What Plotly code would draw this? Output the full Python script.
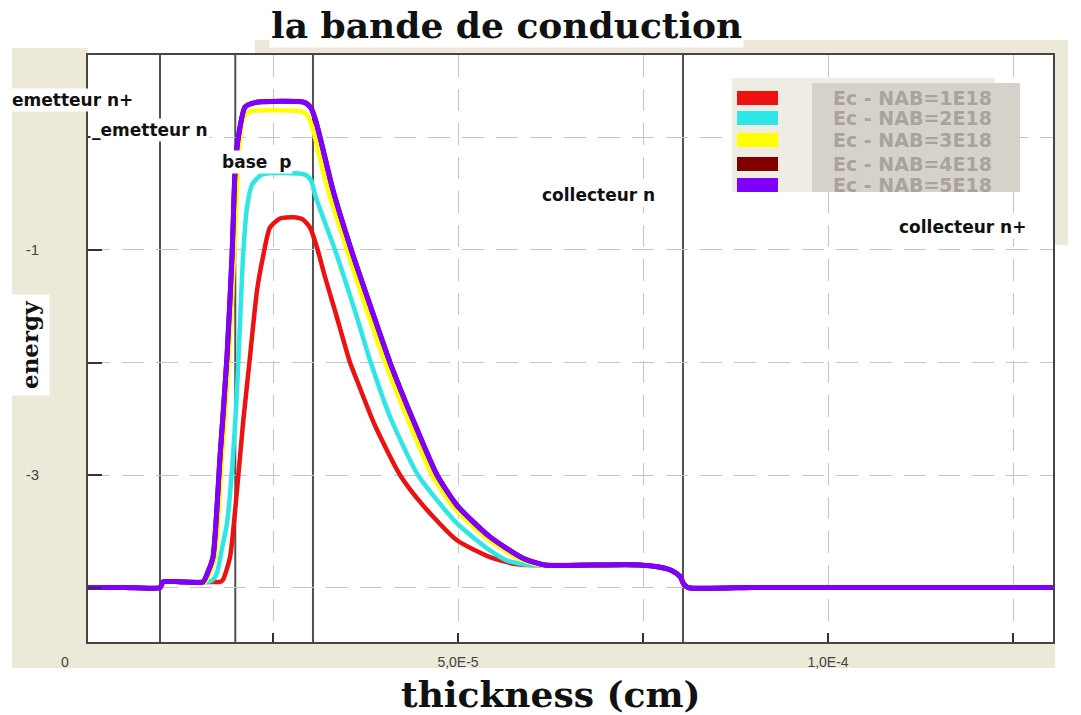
import numpy as np
import plotly.graph_objects as go

# Thickness values are in units of 1e-5 cm, energies in eV.
x_red = [0, 0.5, 0.973, 1.014, 1.3, 1.689, 1.784, 1.824, 1.919, 2.014, 2.095, 2.189, 2.284,
         2.365, 2.459, 2.595, 2.770, 2.905, 3.0, 3.095, 3.203, 3.338, 3.541, 3.635, 3.878,
         4.216, 4.527, 4.986, 5.432, 5.770, 5.973]
e_red = [-4.0, -4.0, -4.0, -3.95, -3.95, -3.95, -3.95, -3.93, -3.73, -3.13, -2.54, -1.95,
         -1.36, -1.06, -0.80, -0.72, -0.71, -0.73, -0.80, -0.98, -1.24, -1.54, -2.0, -2.16,
         -2.56, -3.0, -3.27, -3.58, -3.73, -3.79, -3.80]

x_cyan = [0, 0.5, 0.973, 1.014, 1.3, 1.622, 1.689, 1.743, 1.811, 1.878, 1.959, 2.014, 2.054,
          2.095, 2.149, 2.216, 2.351, 2.932, 3.014, 3.068, 3.176, 3.338, 3.635, 3.811, 4.081,
          4.459, 4.986, 5.432, 5.662, 5.973]
e_cyan = [-4.0, -4.0, -4.0, -3.95, -3.95, -3.95, -3.93, -3.87, -3.65, -3.43, -2.84, -2.24,
          -1.65, -1.06, -0.62, -0.42, -0.33, -0.33, -0.38, -0.51, -0.71, -1.0, -1.60, -1.98,
          -2.48, -3.0, -3.43, -3.67, -3.76, -3.80]

x_yellow = [0, 0.5, 0.973, 1.014, 1.3, 1.581, 1.649, 1.716, 1.811, 1.905, 1.973, 2.014,
            2.054, 2.095, 2.189, 2.892, 2.973, 3.041, 3.108, 3.243, 3.5, 3.743, 4.014, 4.324,
            4.649, 4.919, 5.365, 5.811, 6.108]
e_yellow = [-4.0, -4.0, -4.0, -3.95, -3.95, -3.95, -3.86, -3.73, -2.84, -1.95, -1.06, -0.47,
            -0.02, 0.17, 0.23, 0.23, 0.19, 0.07, -0.11, -0.47, -1.0, -1.49, -2.0, -2.51,
            -3.0, -3.27, -3.55, -3.74, -3.80]

x_purple = [0, 0.5, 0.973, 1.014, 1.3, 1.554, 1.622, 1.689, 1.784, 1.878, 1.946, 1.986,
            2.027, 2.122, 2.257, 2.932, 3.014, 3.081, 3.162, 3.311, 3.568, 3.811, 4.081,
            4.392, 4.716, 4.986, 5.432, 5.878, 6.176]
e_purple = [-4.0, -4.0, -4.0, -3.95, -3.95, -3.95, -3.86, -3.73, -2.84, -1.95, -1.06, -0.32,
            -0.02, 0.27, 0.31, 0.31, 0.26, 0.14, -0.07, -0.47, -1.02, -1.49, -2.0, -2.51,
            -3.0, -3.27, -3.55, -3.74, -3.80]

# The 4E18 curve lies under the 5E18 curve over the whole device.
x_darkred = list(x_purple)
e_darkred = list(e_purple)

# Collector region, common to all doping levels
x_tail = [6.8, 7.459, 7.730, 7.892, 8.0, 8.051, 8.108, 9.0, 10.0, 11.0, 12.0, 13.04]
e_tail = [-3.80, -3.80, -3.82, -3.85, -3.90, -3.97, -4.0, -4.0, -4.0, -4.0, -4.0, -4.0]

series_names = ["Ec - NAB=1E18", "Ec - NAB=2E18", "Ec - NAB=3E18", "Ec - NAB=4E18", "Ec - NAB=5E18"]
series_x = [x_red, x_cyan, x_yellow, x_darkred, x_purple]
series_e = [e_red, e_cyan, e_yellow, e_darkred, e_purple]
series_colors = ["#ee1111", "#2ee6e6", "#ffff00", "#800000", "#7f00ff"]
series_widths = [4.5, 4.5, 4.5, 5, 5]

# Region boundaries (1e-5 cm)
boundaries = [0.973, 1.99, 3.04, 8.04]
region_labels = ["emetteur n+", "_emetteur n", "base  p", "collecteur n", "collecteur n+"]

SCALE = 1e-5
W, H = 1081, 715
L, R, T, B = 88, 1053, 55, 642


def px(x):
    return (x - L) / (R - L)


def py(y):
    return (B - y) / (B - T)


fig = go.Figure()
for name, xs, es, col, lw in zip(series_names, series_x, series_e, series_colors, series_widths):
    xx = np.array(xs + x_tail) * SCALE
    ee = np.array(es + e_tail)
    fig.add_trace(go.Scatter(x=xx, y=ee, mode="lines", name=name,
                             line=dict(color=col, width=lw, shape="spline", smoothing=0.6),
                             showlegend=False))

shapes = []
beige = "#ece9d8"
for (x0, y0, x1, y1) in [(12, 48, 88, 668), (12, 642, 1055, 668),
                         (255, 40, 1068, 55), (1055, 40, 1068, 245)]:
    shapes.append(dict(type="rect", xref="paper", yref="paper",
                       x0=px(x0), x1=px(x1), y0=py(y1), y1=py(y0),
                       fillcolor=beige, line=dict(width=0), layer="below"))

for b in boundaries:
    shapes.append(dict(type="line", xref="x", yref="paper", x0=b * SCALE, x1=b * SCALE,
                       y0=0, y1=1, line=dict(color="#505050", width=2), layer="between"))

# legend box
shapes.append(dict(type="rect", xref="paper", yref="paper", x0=px(732), x1=px(995),
                   y0=py(192), y1=py(78), fillcolor="#efede3", line=dict(width=0)))
shapes.append(dict(type="rect", xref="paper", yref="paper", x0=px(812), x1=px(1020),
                   y0=py(192), y1=py(83), fillcolor="#d6d2ca", line=dict(width=0)))
row_y = [98, 118, 140, 164, 185]
annotations = []
for yy, col, name in zip(row_y, series_colors, series_names):
    shapes.append(dict(type="rect", xref="paper", yref="paper", x0=px(737), x1=px(778),
                       y0=py(yy + 7), y1=py(yy - 7), fillcolor=col, line=dict(width=0)))
    annotations.append(dict(xref="paper", yref="paper", x=px(912), y=py(yy), text=name,
                            showarrow=False, xanchor="center", yanchor="middle",
                            font=dict(family="DejaVu Sans", size=19, color="#a8a49b",
                                      weight="bold")))

label_pos = [(10, 100), (90, 130), (220, 162), (540, 195), (897, 227)]
for (lx, ly), txt in zip(label_pos, region_labels):
    annotations.append(dict(xref="paper", yref="paper", x=px(lx), y=py(ly), text=txt,
                            showarrow=False, xanchor="left", yanchor="middle",
                            bgcolor="white", borderpad=1,
                            font=dict(family="DejaVu Sans", size=17, color="#111111",
                                      weight="bold")))

annotations.append(dict(xref="paper", yref="paper", x=px(506), y=py(25),
                        text="la bande de conduction", showarrow=False,
                        xanchor="center", yanchor="middle", bgcolor="white",
                        font=dict(family="DejaVu Serif", size=36, color="#111111",
                                  weight="bold")))
annotations.append(dict(xref="paper", yref="paper", x=px(551), y=py(694),
                        text="thickness (cm)", showarrow=False,
                        xanchor="center", yanchor="middle",
                        font=dict(family="DejaVu Serif", size=36, color="#111111",
                                  weight="bold")))
annotations.append(dict(xref="paper", yref="paper", x=px(29), y=py(345),
                        text="energy", showarrow=False, textangle=-90,
                        xanchor="center", yanchor="middle", bgcolor="white", borderpad=6,
                        font=dict(family="DejaVu Serif", size=23, color="#111111",
                                  weight="bold")))
annotations.append(dict(xref="paper", yref="paper", x=px(65), y=py(662), text="0",
                        showarrow=False, xanchor="center", yanchor="middle",
                        font=dict(family="Liberation Sans", size=14, color="#444444")))

grid = dict(showgrid=True, gridcolor="#c4c4c4", gridwidth=1.2, griddash="22px,12px")

fig.update_layout(
    width=W, height=H,
    margin=dict(l=L, r=W - R, t=T, b=H - B),
    paper_bgcolor="white", plot_bgcolor="white",
    shapes=shapes, annotations=annotations,
    xaxis=dict(range=[0, 13.04 * SCALE], tickvals=[2.5e-5, 5e-5, 7.5e-5, 1e-4, 1.25e-4],
               ticktext=["", "5,0E-5", "", "1,0E-4", ""],
               ticks="inside", ticklen=9, tickcolor="#333", tickwidth=2,
               ticklabelstandoff=6,
               tickfont=dict(family="Liberation Sans", size=14, color="#444444"),
               showline=True, linecolor="#454545", linewidth=2, mirror=True,
               zeroline=False, **grid),
    yaxis=dict(range=[-4.484, 0.733], tickvals=[0, -1, -2, -3, -4],
               ticktext=["", "-1", "", "-3", ""],
               ticks="inside", ticklen=14, tickcolor="#333", tickwidth=2,
               ticklabelstandoff=44,
               tickfont=dict(family="Liberation Sans", size=15, color="#444444"),
               showline=True, linecolor="#454545", linewidth=2, mirror=True,
               zeroline=False, **grid),
)

fig.write_html("out.html")
